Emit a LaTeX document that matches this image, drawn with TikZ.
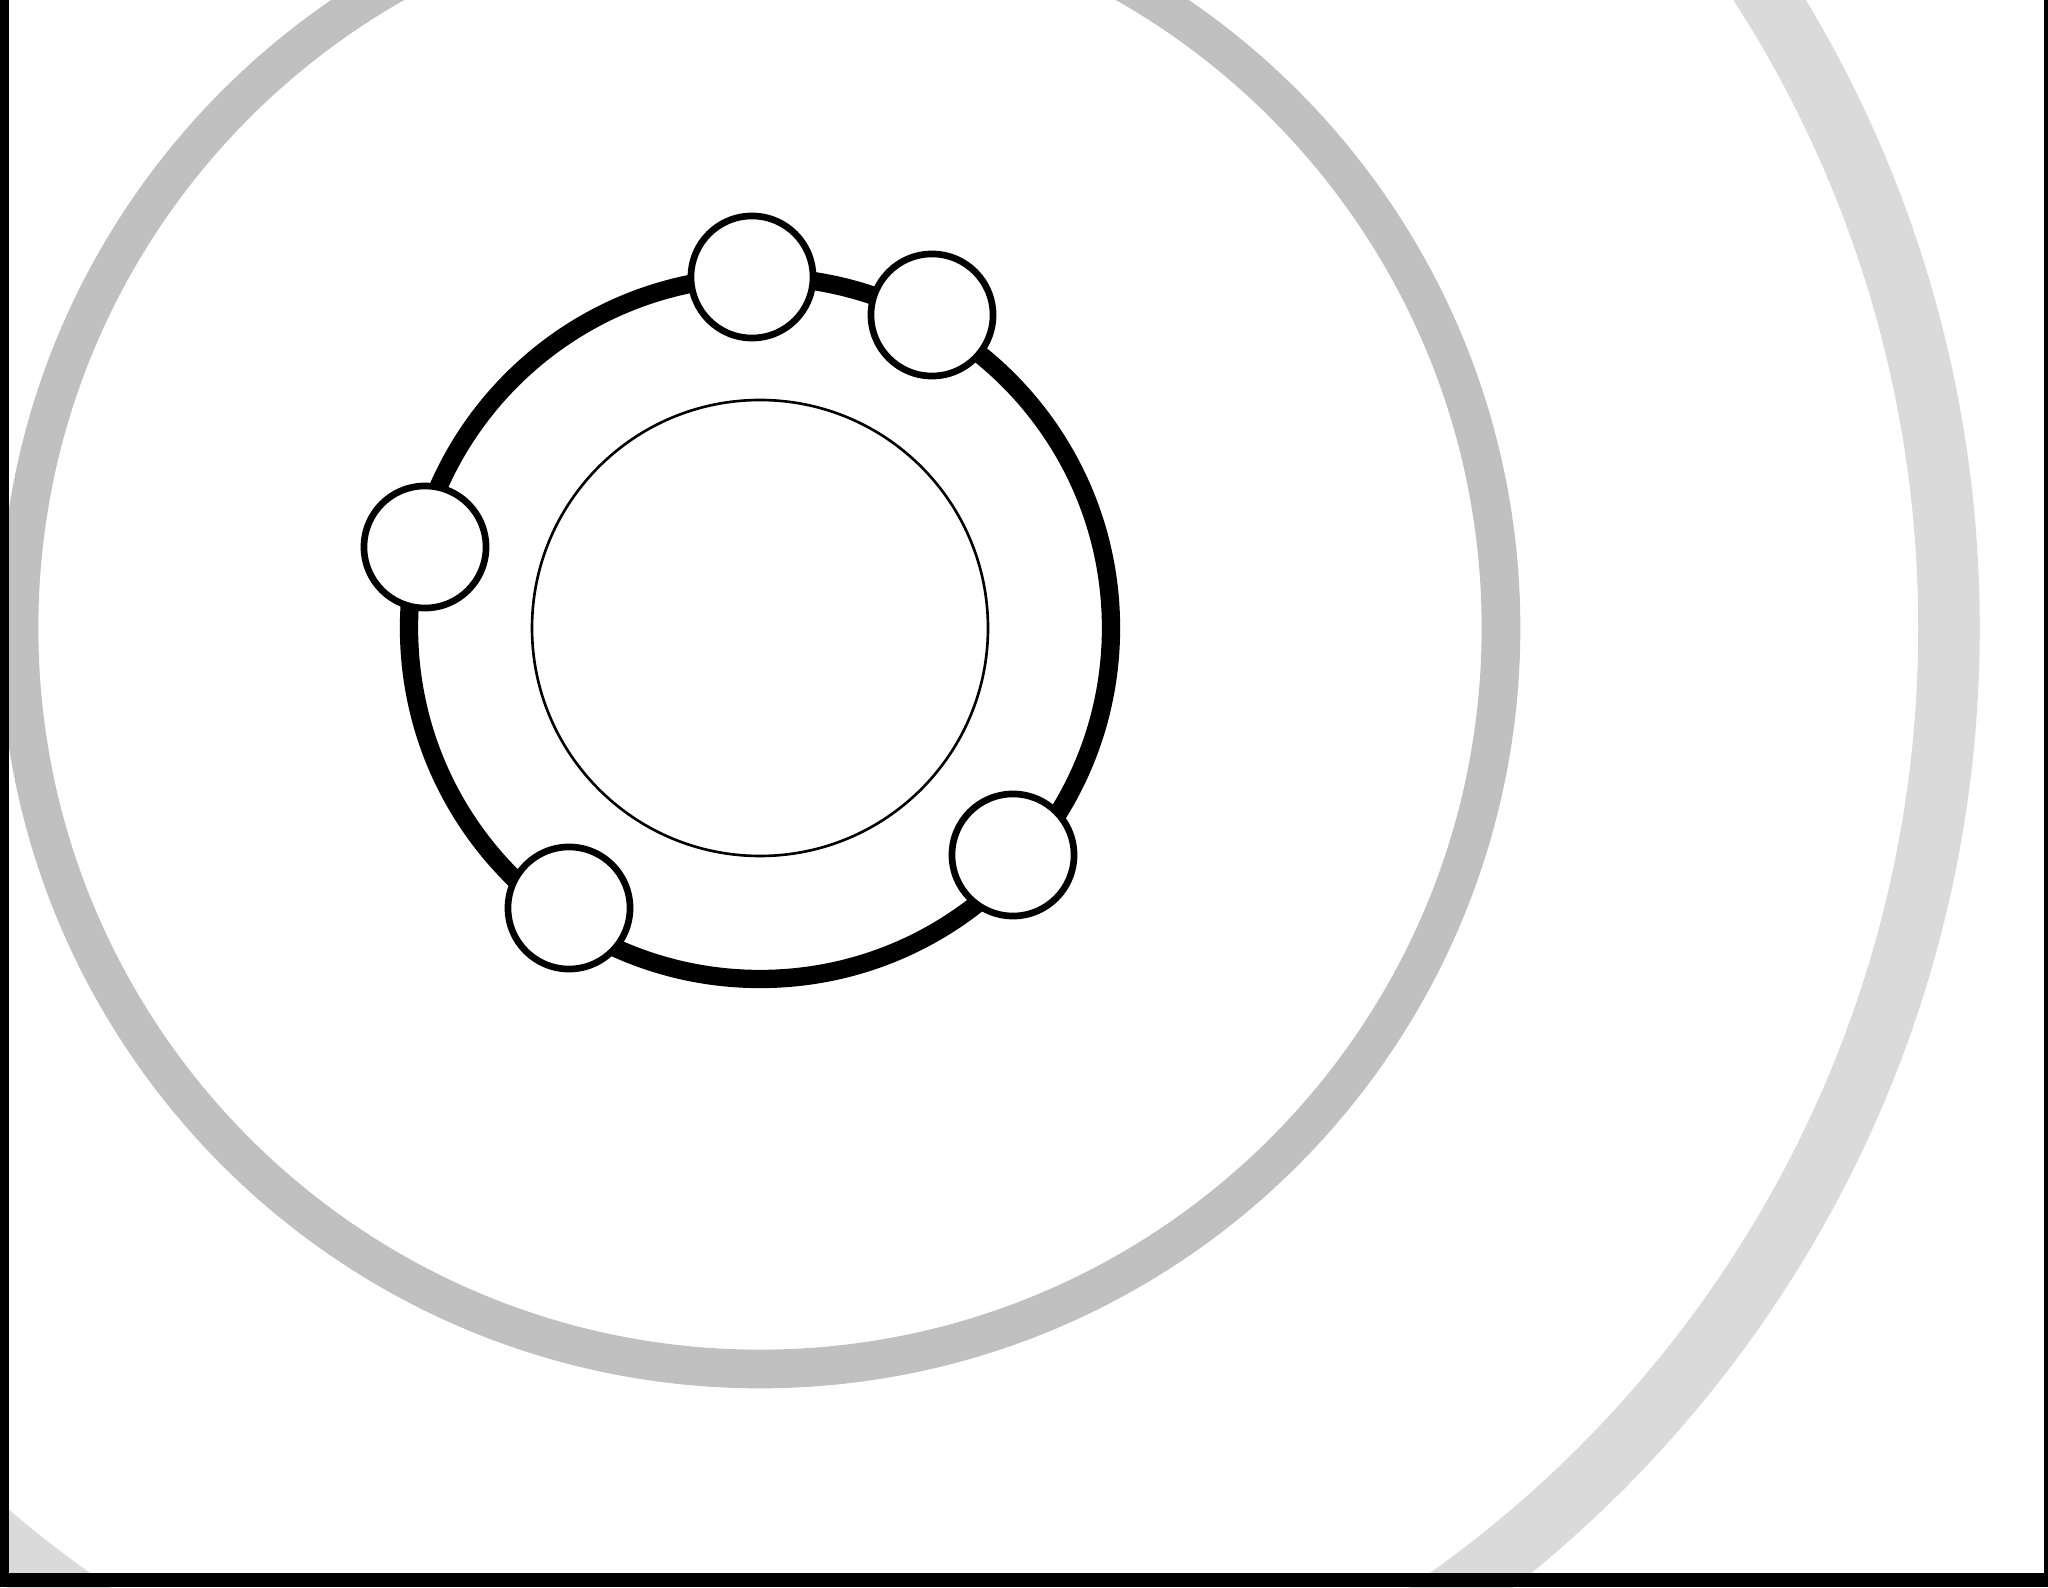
\documentclass[tikz,border=0pt]{standalone}
\usepackage{tikz}

\tikzset{
  bola/.style={circle,draw,fill=white,line width=1.9pt,minimum size=1.22cm,inner sep=0pt}
}

\begin{document}
\begin{tikzpicture}[x=0.01cm,y=0.01cm]
        %colores
        \definecolor{gris}{RGB}{192,192,192}
        \definecolor{grisclaro}{RGB}{218,218,218}

        \useasboundingbox (0,0) rectangle (2048,1587);
        \clip (0,0) rectangle (2048,1587);
        \coordinate (centro) at (760,959);

        % Anillos de fondo
        \draw[grisclaro,line width=17.5pt] (centro) circle (1189);
        \draw[gris,line width=11pt] (centro) circle (741);

        % Circulo interior y anillo
        \draw[line width=0.75pt] (centro) circle (228);
        \draw[line width=5.2pt] (centro) circle (351);

        % Bolas
        \foreach \n/\x/\y in {uno/752/1310, dos/932/1272, tres/425/1040, cuatro/569/679, cinco/1013/732}
            \node[bola] (\n) at (\x,\y) {};

        % Marco
        \fill (0,0) rectangle (9,1587);
        \fill (2044,0) rectangle (2048,1587);
        \fill (0,0) rectangle (2048,14);
    \end{tikzpicture}
\end{document}
